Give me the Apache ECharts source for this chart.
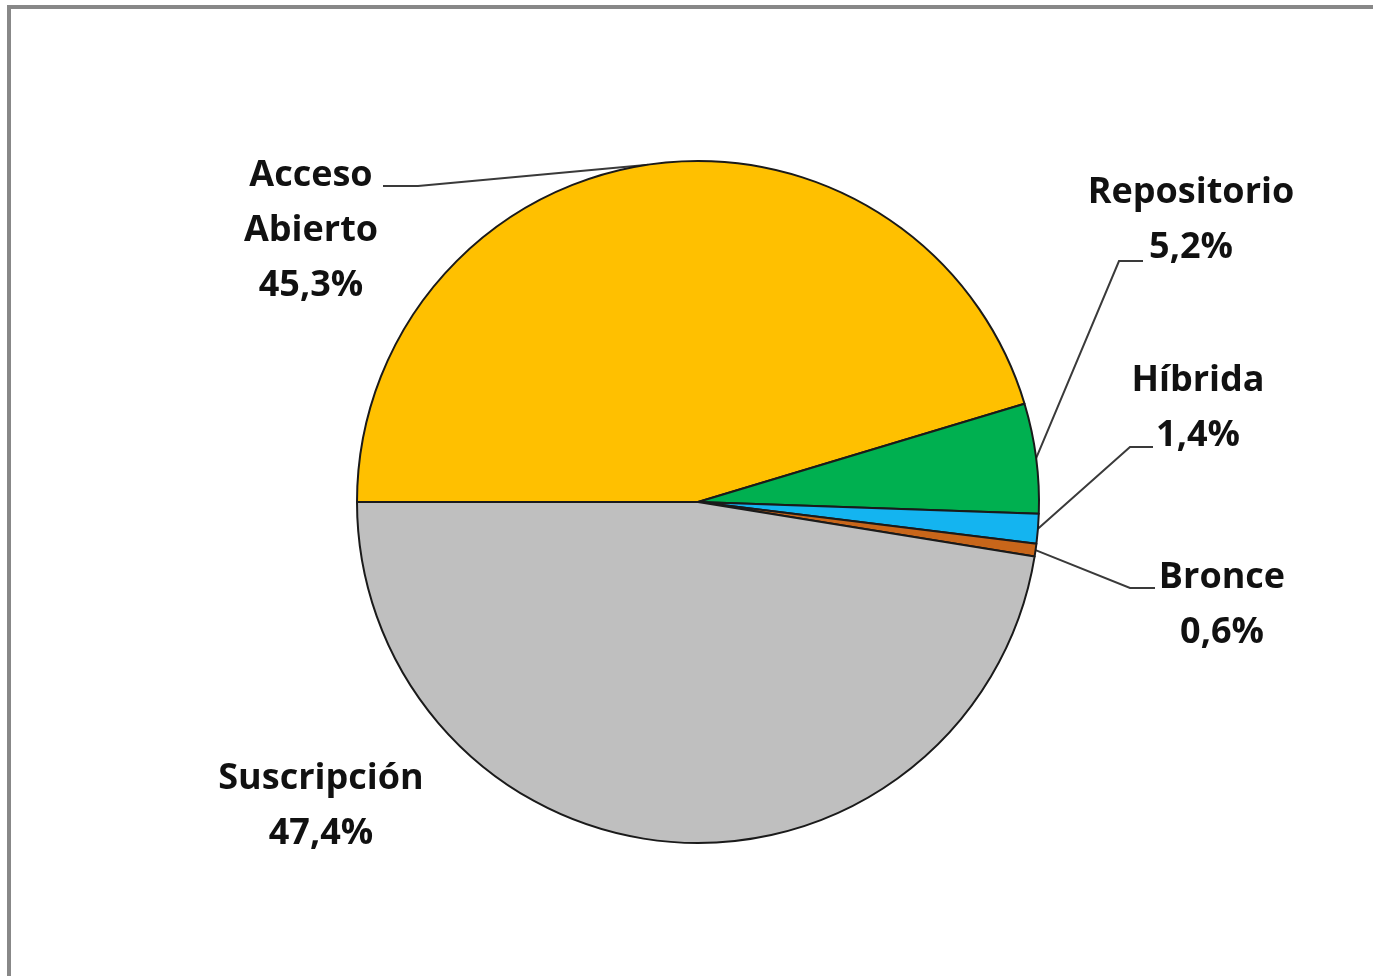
<!DOCTYPE html>
<html>
<head>
<meta charset="utf-8">
<script src="https://cdn.jsdelivr.net/npm/echarts@6/dist/echarts.min.js"></script>
<style>
html,body{margin:0;padding:0;background:#fff;}
#c{width:1373px;height:976px;}
</style>
</head>
<body>
<div id="c"></div>
<script>
var categories = ['Acceso Abierto', 'Repositorio', 'Híbrida', 'Bronce', 'Suscripción'];
var values = [45.3, 5.2, 1.4, 0.6, 47.4];
var colors = ['#FFC000', '#00B050', '#14B4F0', '#C8661A', '#BFBFBF'];

// label placement (center of text block) and leader-line bends
var labelPlaces = [
  { x: 311, y: 231, elbow: [418, 186], end: [383, 186] },
  { x: 1191, y: 220, elbow: [1119, 261], end: [1143, 261] },
  { x: 1198, y: 408, elbow: [1130, 447], end: [1153, 447] },
  { x: 1222, y: 605, elbow: [1130, 588], end: [1155, 588] },
  { x: 321, y: 806 }
];

var chart = echarts.init(document.getElementById('c'));
var data = categories.map(function (n, i) {
  return {
    name: n,
    value: values[i],
    itemStyle: { color: colors[i] },
    labelLine: { show: i < 4 }
  };
});

chart.setOption({
  animation: false,
  graphic: [{
    type: 'rect',
    z: -10,
    shape: { x: 9, y: 7, width: 1600, height: 1200 },
    style: { fill: 'none', stroke: '#888888', lineWidth: 4 }
  }],
  series: [{
    type: 'pie',
    center: [698, 502],
    radius: 341,
    startAngle: 180,
    clockwise: true,
    avoidLabelOverlap: false,
    itemStyle: { borderColor: '#1a1a1a', borderWidth: 2 },
    label: {
      show: true,
      position: 'outside',
      fontFamily: 'Open Sans',
      fontWeight: 'bold',
      fontSize: 36,
      lineHeight: 55,
      color: '#111',
      align: 'center',
      formatter: function (p) {
        return p.name.replace(' ', '\n') + '\n' + p.value.toFixed(1).replace('.', ',') + '%';
      }
    },
    labelLine: {
      show: true,
      lineStyle: { color: '#3a3a3a', width: 2 }
    },
    labelLayout: function (p) {
      var L = labelPlaces[p.dataIndex];
      var out = { x: L.x, y: L.y, align: 'center', verticalAlign: 'middle' };
      if (L.elbow && p.labelLinePoints) {
        out.labelLinePoints = [p.labelLinePoints[0], L.elbow, L.end];
      }
      return out;
    },
    data: data
  }]
});
</script>
</body>
</html>
